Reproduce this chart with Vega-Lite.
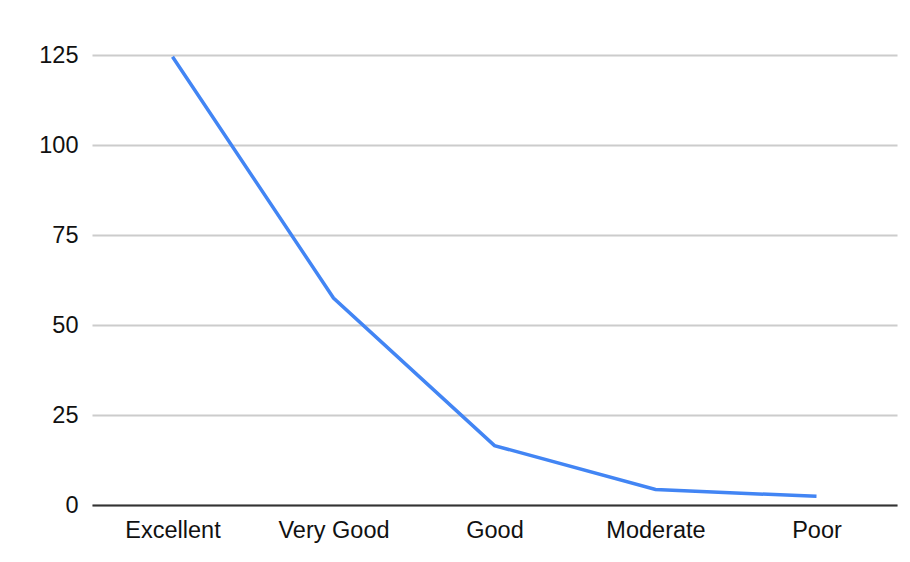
{
  "$schema": "https://vega.github.io/schema/vega-lite/v6.json",
  "width": 805,
  "height": 450,
  "autosize": {"type": "none"},
  "padding": {"left": 92, "top": 55, "right": 13, "bottom": 57},
  "background": "white",
  "data": {
    "values": [
      {"rating": "Excellent", "count": 124.5},
      {"rating": "Very Good", "count": 57.5},
      {"rating": "Good", "count": 16.5},
      {"rating": "Moderate", "count": 4.3},
      {"rating": "Poor", "count": 2.4}
    ]
  },
  "mark": {"type": "line", "color": "#4285F4", "strokeWidth": 3.5},
  "encoding": {
    "x": {
      "field": "rating",
      "type": "nominal",
      "sort": null,
      "scale": {"type": "point", "padding": 0.5},
      "axis": {
        "title": null,
        "labelAngle": 0,
        "ticks": false,
        "domain": true,
        "domainColor": "#333333",
        "domainWidth": 2,
        "grid": false,
        "labelPadding": 13,
        "labelFont": "Liberation Sans",
        "labelFontSize": 23.5,
        "labelColor": "#111111"
      }
    },
    "y": {
      "field": "count",
      "type": "quantitative",
      "scale": {"domain": [0, 125], "nice": false},
      "axis": {
        "title": null,
        "values": [0, 25, 50, 75, 100, 125],
        "ticks": false,
        "domain": false,
        "grid": true,
        "gridColor": "#cccccc",
        "gridWidth": 2,
        "labelPadding": 14,
        "labelFont": "Liberation Sans",
        "labelFontSize": 23.5,
        "labelColor": "#111111"
      }
    }
  },
  "config": {"view": {"stroke": null}}
}
